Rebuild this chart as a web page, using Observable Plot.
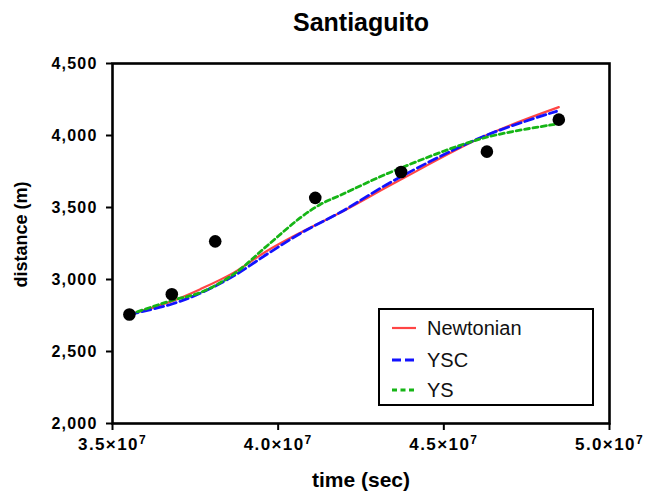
<!DOCTYPE html>
<html>
<head>
<meta charset="utf-8">
<script src="https://cdn.jsdelivr.net/npm/d3@7"></script>
<script src="https://cdn.jsdelivr.net/npm/@observablehq/plot@0.6"></script>
<style>
  html, body { margin: 0; padding: 0; background: #fff; }
  #wrap { position: relative; width: 646px; height: 492px; font-family: "Liberation Sans", Arial, Helvetica, sans-serif; }
  #legend { position: absolute; left: 378px; top: 308px; width: 212px; height: 94px; border: 2.5px solid #000; background: #fff; }
  #legend .row { position: absolute; left: 0; height: 24px; display: flex; align-items: center; }
  #legend .row span { font-size: 20px; color: #111; margin-left: 11px; }
  #legend svg { margin-left: 12px; }
  [aria-label="y-axis tick label"] text { font-size: 16px !important; font-weight: bold !important; letter-spacing: 1.2px; }
  [aria-label="x-axis tick label"] text { font-size: 17px !important; font-weight: bold !important; letter-spacing: 1.4px; }
</style>
</head>
<body>
<div id="wrap"></div>
<script>
// Observed data points
const obsTime = [3.551e7, 3.679e7, 3.810e7, 4.112e7, 4.371e7, 4.630e7, 4.847e7];
const obsDist = [2757, 2898, 3265, 3567, 3747, 3888, 4110];

// Newtonian model
const newtTime = [3.551e7, 3.68e7, 3.765e7, 3.866e7, 3.966e7, 4.067e7, 4.188e7, 4.359e7, 4.621e7, 4.847e7];
const newtDist = [2757, 2850, 2933, 3048, 3198, 3325, 3465, 3680, 3994, 4197];

// YSC model
const yscTime = [3.551e7, 3.68e7, 3.765e7, 3.866e7, 3.966e7, 4.067e7, 4.188e7, 4.359e7, 4.621e7, 4.84e7];
const yscDist = [2757, 2830, 2905, 3025, 3175, 3320, 3467, 3700, 3995, 4168];

// YS model
const ysTime = [3.551e7, 3.68e7, 3.765e7, 3.866e7, 3.966e7, 4.067e7, 4.127e7, 4.188e7, 4.359e7, 4.621e7, 4.843e7];
const ysDist = [2757, 2855, 2909, 3037, 3233, 3429, 3521, 3586, 3764, 3983, 4080];

const xTicks = [3.5e7, 4.0e7, 4.5e7, 5.0e7];
const yTicks = [2000, 2500, 3000, 3500, 4000, 4500];

const title = "Santiaguito";
const xLabel = "time (sec)";
const yLabel = "distance (m)";

const seriesNames = ["Newtonian", "YSC", "YS"];
const seriesColors = ["#ff4545", "#1212ff", "#16b516"];
const seriesDash = [null, "9,4", "5,3.5"];
const seriesWidth = [2.2, 2.8, 2.8];

const toRows = (t, d) => t.map((v, i) => ({t: v, d: d[i]}));
const obs = toRows(obsTime, obsDist);
const models = [toRows(newtTime, newtDist), toRows(yscTime, yscDist), toRows(ysTime, ysDist)];

const fmtX = v => (v / 1e7).toFixed(1) + "×10^7";

const plot = Plot.plot({
  width: 646,
  height: 492,
  marginLeft: 112,
  marginRight: 37,
  marginTop: 63,
  marginBottom: 69,
  style: {fontFamily: '"Liberation Sans", Arial, Helvetica, sans-serif', background: "#fff", overflow: "visible", color: "#000"},
  x: {domain: [3.5e7, 5.0e7]},
  y: {domain: [2000, 4500]},
  marks: [
    Plot.axisX({ticks: xTicks, tickFormat: fmtX, tickSize: 7, tickPadding: 7, fontSize: 17, fontWeight: "bold", strokeWidth: 2, label: null}),
    Plot.axisY({ticks: yTicks, tickFormat: d3.format(","), tickSize: 6, tickPadding: 9, fontSize: 16, fontWeight: "bold", strokeWidth: 2, label: null}),
    ...models.map((m, i) => Plot.line(m, {x: "t", y: "d", curve: "catmull-rom", stroke: seriesColors[i], strokeWidth: seriesWidth[i], strokeDasharray: seriesDash[i]})),
    Plot.dot(obs, {x: "t", y: "d", r: 6.3, fill: "#000", stroke: null}),
    Plot.frame({stroke: "#000", strokeWidth: 2.6}),
    Plot.text([title], {frameAnchor: "top", dy: -41, lineAnchor: "middle", textAnchor: "middle", fontSize: 25, fontWeight: "bold"}),
    Plot.text([xLabel], {frameAnchor: "bottom", dy: 63, lineAnchor: "bottom", textAnchor: "middle", fontSize: 21, fontWeight: "bold"}),
    Plot.text([yLabel], {frameAnchor: "left", dx: -91, dy: -9, rotate: -90, lineAnchor: "middle", textAnchor: "middle", fontSize: 18, fontWeight: "bold"})
  ]
});

// render superscript exponents as tspans
d3.select(plot).selectAll('[aria-label="x-axis tick label"] text').each(function() {
  const s = this.textContent;
  const [base, exp] = s.split("^");
  const t = d3.select(this);
  t.text(null);
  t.append("tspan").text(base);
  t.append("tspan").attr("dy", "-0.5em").attr("font-size", "12px").text(exp);
});

const wrap = document.getElementById("wrap");
wrap.appendChild(plot);

// legend overlay
const legend = document.createElement("div");
legend.id = "legend";
const rowTops = [6, 38, 68];
seriesNames.forEach((name, i) => {
  const row = document.createElement("div");
  row.className = "row";
  row.style.top = rowTops[i] + "px";
  const dash = seriesDash[i] ? `stroke-dasharray="${seriesDash[i]}"` : "";
  row.innerHTML = `<svg width="24" height="10"><line x1="0" x2="24" y1="5" y2="5" stroke="${seriesColors[i]}" stroke-width="${seriesWidth[i]}" ${dash}/></svg><span>${name}</span>`;
  legend.appendChild(row);
});
wrap.appendChild(legend);
</script>
</body>
</html>
